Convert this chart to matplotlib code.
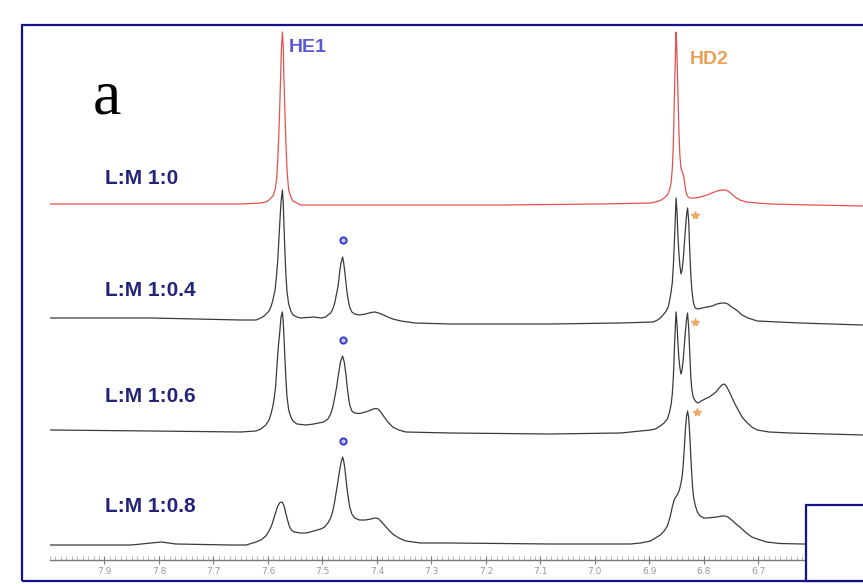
import matplotlib
matplotlib.use("Agg")
import matplotlib.pyplot as plt
from matplotlib.patches import Rectangle
import numpy as np

# ---------------- data (chemical shift in ppm, intensity in arbitrary units) -------------
labels = ["L:M 1:0", "L:M 1:0.4", "L:M 1:0.6", "L:M 1:0.8"]

ppm_1 = [8.000, 7.814, 7.650, 7.613, 7.604, 7.598, 7.591, 7.587, 7.584, 7.582, 7.580, 7.578,
         7.5754, 7.5735, 7.5717, 7.571, 7.569, 7.567, 7.565, 7.563, 7.562, 7.558, 7.554, 7.547,
         7.540, 7.356, 7.173, 6.990, 6.898, 6.889, 6.880, 6.873, 6.867, 6.863, 6.860, 6.858,
         6.856, 6.854, 6.852, 6.851, 6.850, 6.848, 6.846, 6.844, 6.842, 6.840, 6.838, 6.836,
         6.834, 6.832, 6.829, 6.825, 6.816, 6.807, 6.794, 6.785, 6.776, 6.767, 6.761, 6.756,
         6.749, 6.743, 6.734, 6.722, 6.702, 6.679, 6.600, 6.508]
int_1 = [0, 0, 0, 1, 2, 4, 8, 14, 25, 44, 70, 104,
         154, 172, 154, 130, 94, 60, 34, 20, 14, 7, 3, 1,
         -1, -1, -1, 0, 1, 2, 3.5, 6, 9, 14, 22, 35,
         60, 110, 155, 172, 160, 120, 75, 48, 36, 32, 30, 24,
         16, 10, 7, 6, 6, 7, 9, 11, 13, 14, 14, 13,
         10, 7, 4, 2, 1, 0, -1, -2]

ppm_2 = [8.000, 7.814, 7.650, 7.622, 7.613, 7.607, 7.598, 7.594, 7.591, 7.587, 7.585, 7.582,
         7.580, 7.578, 7.576, 7.5735, 7.572, 7.571, 7.569, 7.567, 7.565, 7.562, 7.558, 7.554,
         7.547, 7.540, 7.516, 7.503, 7.494, 7.490, 7.485, 7.481, 7.478, 7.476, 7.472, 7.470,
         7.468, 7.466, 7.463, 7.461, 7.459, 7.457, 7.455, 7.452, 7.450, 7.446, 7.441, 7.432,
         7.421, 7.411, 7.404, 7.397, 7.388, 7.380, 7.371, 7.356, 7.330, 7.265, 7.082, 6.953,
         6.893, 6.885, 6.880, 6.875, 6.869, 6.865, 6.862, 6.860, 6.858, 6.856, 6.854, 6.852,
         6.851, 6.849, 6.848, 6.846, 6.844, 6.842, 6.840, 6.838, 6.836, 6.834, 6.832, 6.830,
         6.828, 6.826, 6.824, 6.822, 6.820, 6.818, 6.816, 6.811, 6.803, 6.794, 6.785, 6.776,
         6.767, 6.761, 6.756, 6.749, 6.743, 6.736, 6.730, 6.719, 6.702, 6.624, 6.508]
int_2 = [2, 2, 0, 0, 2, 4, 9, 14, 20, 30, 40, 60,
         80, 100, 118, 130, 118, 100, 70, 45, 28, 16, 9, 5,
         3, 2, 3, 2, 3, 5, 7, 11, 16, 21, 32, 40,
         50, 57, 63, 57, 48, 38, 28, 18, 13, 8, 6, 5,
         6, 7.5, 8, 7, 5, 3, 1, -1, -3, -4, -4, -3,
         -2, 0, 2, 5, 9, 14, 22, 29, 37, 55, 80, 108,
         122, 105, 88, 68, 54, 46, 50, 60, 75, 90, 104, 112,
         100, 70, 45, 30, 20, 15, 12, 11, 12, 13, 14, 16,
         17, 17, 16, 13, 11, 8, 5, 2, -1, -3, -5]

ppm_3 = [8.000, 7.814, 7.650, 7.622, 7.613, 7.604, 7.598, 7.594, 7.591, 7.589, 7.586, 7.584,
         7.581, 7.578, 7.576, 7.5735, 7.572, 7.571, 7.569, 7.567, 7.565, 7.562, 7.558, 7.554,
         7.547, 7.530, 7.516, 7.507, 7.498, 7.490, 7.485, 7.481, 7.478, 7.474, 7.470, 7.467,
         7.463, 7.460, 7.457, 7.455, 7.452, 7.450, 7.446, 7.441, 7.432, 7.421, 7.411, 7.404,
         7.398, 7.393, 7.388, 7.380, 7.371, 7.360, 7.347, 7.265, 7.082, 6.953, 6.898, 6.889,
         6.880, 6.873, 6.867, 6.863, 6.860, 6.858, 6.856, 6.854, 6.852, 6.851, 6.849, 6.848,
         6.846, 6.844, 6.842, 6.840, 6.838, 6.836, 6.834, 6.832, 6.830, 6.828, 6.826, 6.824,
         6.822, 6.820, 6.818, 6.814, 6.811, 6.805, 6.798, 6.790, 6.785, 6.778, 6.772, 6.767,
         6.763, 6.759, 6.754, 6.749, 6.743, 6.736, 6.730, 6.722, 6.712, 6.702, 6.680, 6.642,
         6.508]
int_3 = [2, 1, 0, 1, 3, 7, 12, 19, 26, 32, 45, 62,
         85, 102, 115, 120, 110, 100, 75, 52, 35, 22, 15, 11,
         8, 7, 8, 9, 10, 13, 18, 25, 33, 45, 60, 70,
         76, 70, 58, 47, 34, 27, 21, 19, 18.5, 20, 22, 23.5,
         23, 20, 16, 10, 5, 2, 0, -1, -2, -1, 2, 3,
         6, 9, 13, 20, 28, 38, 55, 85, 110, 120, 105, 92,
         75, 64, 58, 62, 72, 86, 100, 112, 119, 105, 80, 55,
         42, 36, 33, 30, 29, 31, 33, 35, 37, 40, 44, 47,
         48, 46, 41, 35, 28, 21, 15, 10, 5, 2, 0, -1,
         -3]

ppm_4 = [8.000, 7.851, 7.796, 7.769, 7.668, 7.640, 7.622, 7.613, 7.604, 7.598, 7.593, 7.589,
         7.585, 7.582, 7.578, 7.574, 7.571, 7.569, 7.567, 7.564, 7.561, 7.557, 7.552, 7.540,
         7.530, 7.516, 7.503, 7.496, 7.490, 7.485, 7.481, 7.478, 7.475, 7.472, 7.469, 7.466,
         7.463, 7.461, 7.459, 7.457, 7.455, 7.452, 7.450, 7.446, 7.441, 7.432, 7.421, 7.411,
         7.404, 7.398, 7.393, 7.388, 7.380, 7.371, 7.360, 7.347, 7.320, 7.265, 7.082, 6.935,
         6.916, 6.898, 6.889, 6.880, 6.873, 6.867, 6.862, 6.858, 6.854, 6.849, 6.845, 6.842,
         6.840, 6.838, 6.836, 6.834, 6.832, 6.830, 6.828, 6.827, 6.825, 6.823, 6.821, 6.819,
         6.816, 6.812, 6.807, 6.800, 6.794, 6.785, 6.776, 6.767, 6.761, 6.756, 6.749, 6.743,
         6.734, 6.722, 6.712, 6.702, 6.685, 6.661, 6.620, 6.508]
int_4 = [0, 0, 3, 1, 0, 0, 3, 5, 9, 14, 20, 27,
         34, 39, 42.5, 43, 40, 36, 31, 25, 19, 15, 13, 12,
         12, 14, 16, 18, 22, 27, 34, 42, 52, 62, 73, 82,
         88, 84, 77, 67, 57, 45, 38, 31, 27, 25, 25, 26,
         27, 26.5, 24, 21, 16, 11, 7, 4, 2, 2, 1, 1,
         2, 4, 7, 10, 14, 19, 28, 38, 46, 50, 55, 62,
         68, 80, 96, 115, 128, 134, 128, 120, 100, 78, 60, 48,
         40, 33, 29, 27, 27, 27.5, 28, 29, 29, 28, 25, 22,
         18, 12, 8, 6, 3, 1.5, 1, 0]

# annotation markers: bound HE1 (circle) and bound HD2 (asterisk) peaks
circle_ppm = [7.463, 7.463, 7.463]
circle_int = [80, 92, 104]           # height above each trace baseline
star_ppm = [6.816, 6.816, 6.812]
star_int = [105, 110, 133]

x_ticks = [7.9, 7.8, 7.7, 7.6, 7.5, 7.4, 7.3, 7.2, 7.1, 7.0, 6.9, 6.8, 6.7, 6.6]

# ---------------- layout / style ----------------
W, H = 863, 584
offsets = [356, 240, 128, 15]
colors = ["#e65050", "#3a3a3a", "#3a3a3a", "#3a3a3a"]
navy = "#12128c"

fig = plt.figure(figsize=(W / 100, H / 100), dpi=100)
fig.patch.set_facecolor("white")

ax_l, ax_r, ax_t, ax_b = 50, 863, 25, 560
ax = fig.add_axes([ax_l / W, 1 - ax_b / H, (ax_r - ax_l) / W, (ax_b - ax_t) / H])
ax.set_xlim(8.0, 6.508)
ax.set_ylim(0, ax_b - ax_t)
ax.patch.set_alpha(0)

traces = [(ppm_1, int_1), (ppm_2, int_2), (ppm_3, int_3), (ppm_4, int_4)]
for (p, it), off, c in zip(traces, offsets, colors):
    ax.plot(p, np.array(it) + off, color=c, lw=0.9, solid_joinstyle="round", zorder=3)

# markers
ax.plot(circle_ppm, np.array(circle_int) + np.array(offsets[1:]), ls="none", marker="o",
        ms=4.5, mfc="#c8c8ff", mec="#3a3ad0", mew=1.4, zorder=4)
ax.plot(star_ppm, np.array(star_int) + np.array(offsets[1:]), ls="none", marker="*",
        ms=6, color="#f0a868", zorder=4)

# axis styling
for s in ["top", "left", "right"]:
    ax.spines[s].set_visible(False)
ax.spines["bottom"].set_color("#7a7a7a")
ax.spines["bottom"].set_linewidth(1.0)
ax.set_yticks([])
ax.set_xticks(x_ticks)
ax.set_xticklabels([f"{t:.1f}" for t in x_ticks])
ax.set_xticks(np.round(np.arange(6.51, 8.0001, 0.01), 2), minor=True)
ax.tick_params(axis="x", which="major", direction="inout", length=6, width=0.8,
               color="#7a7a7a", labelsize=6.5, labelcolor="#9a9a9a", pad=2)
ax.tick_params(axis="x", which="minor", direction="in", length=3, width=0.5, color="#9a9a9a")

# text labels
label_y = [179, 291, 397, 507]
for lab, yy in zip(labels, label_y):
    fig.text(105 / W, 1 - yy / H, lab, ha="left", va="center", fontsize=15,
             fontweight="bold", color="#23237a", family="Liberation Sans")

fig.text(289 / W, 1 - 48 / H, "HE1", ha="left", va="center", fontsize=14,
         fontweight="bold", color="#5a5ad2", family="Liberation Sans")
fig.text(690 / W, 1 - 59 / H, "HD2", ha="left", va="center", fontsize=14,
         fontweight="bold", color="#eaa258", family="Liberation Sans")
fig.text(107 / W, 1 - 113 / H, "a", ha="center", va="baseline", fontsize=46,
         color="black", family="Liberation Serif")

# outer navy frame
fig.add_artist(Rectangle((22 / W, 1 - 581 / H), (880 - 22) / W, (581 - 25) / H,
                         transform=fig.transFigure, fill=False, ec=navy, lw=1.6, zorder=5))
# bottom-right inset box
fig.add_artist(Rectangle((806 / W, 1 - 581 / H), (900 - 806) / W, (581 - 505) / H,
                         transform=fig.transFigure, fc="white", ec=navy, lw=1.6, zorder=6))

fig.savefig("out.png", dpi=100)
